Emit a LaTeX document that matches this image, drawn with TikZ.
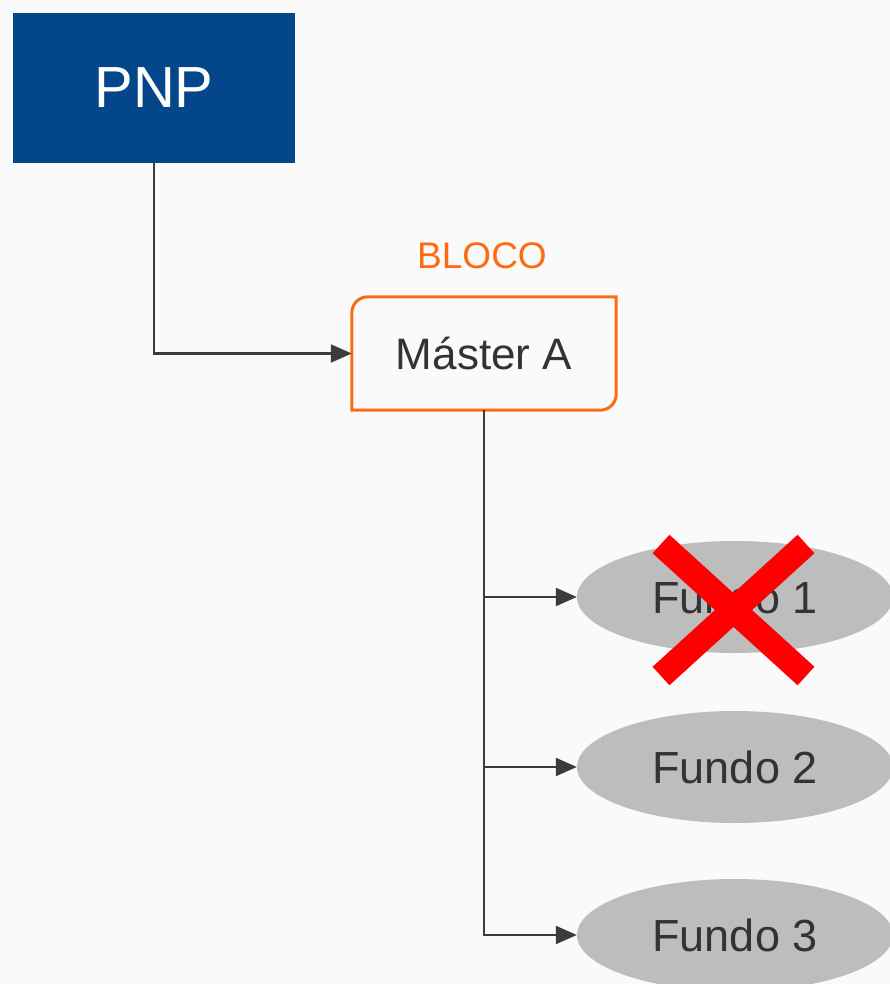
\documentclass[tikz,border=0pt]{standalone}
\usepackage{fontspec}
\setmainfont{Liberation Sans}
\usepackage{xcolor}
\usetikzlibrary{arrows.meta,shapes.geometric}
\definecolor{pnpblue}{HTML}{03468A}
\definecolor{blocoorange}{HTML}{FF6A13}
\definecolor{fundogray}{HTML}{BDBDBD}
\definecolor{linegray}{HTML}{3C3C3C}
\definecolor{textgray}{HTML}{333333}
\definecolor{bggray}{HTML}{FAFAFA}
\tikzset{
  pnpbox/.style={fill=pnpblue,text=white,minimum width=282pt,minimum height=150pt,inner sep=0pt,font=\fontsize{58}{60}\selectfont},
  masterbox/.style={minimum width=264pt,minimum height=113pt,inner sep=0pt,text=textgray,font=\fontsize{44}{46}\selectfont},
  blocoline/.style={blocoorange,line width=3pt},
  fundo/.style={ellipse,fill=fundogray,minimum width=316pt,minimum height=112pt,inner sep=0pt,text=textgray,font=\fontsize{45}{47}\selectfont},
  link/.style={linegray,line width=2.2pt,-{Triangle[length=21pt,width=18pt]}},
  cross/.style={red,line width=25pt,line cap=butt}
}

\begin{document}
\begin{tikzpicture}[x=1pt,y=1pt]
\fill[bggray](0,0)rectangle(890,-984);
\useasboundingbox(0,0)rectangle(890,-984);
\clip(0,0)rectangle(890,-984);
\node[pnpbox](pnp)at(154,-88){PNP};
\node[masterbox](master)at(484,-353.5){Máster A};
\draw[blocoline](master.south west)--([yshift=-16pt]master.north west)
  arc[start angle=180,end angle=90,radius=16pt]--(master.north east)
  --([yshift=16pt]master.south east)
  arc[start angle=0,end angle=-90,radius=16pt]--cycle;
\node[text=blocoorange,font=\fontsize{37}{39}\selectfont](bloco)at(482,-256){BLOCO};
\node[fundo](fundo1)at(735,-597){Fundo 1};
\node[fundo](fundo2)at(735,-767){Fundo 2};
\node[fundo](fundo3)at(735,-935){Fundo 3};
\draw[link](pnp.south)|-(master.west);
\draw[link](master.south)|-(fundo1.west);
\draw[link](master.south)|-(fundo2.west);
\draw[link](master.south)|-(fundo3.west);
\draw[cross](661,-544)--(806,-676);
\draw[cross](806,-544)--(661,-676);
\end{tikzpicture}
\end{document}
